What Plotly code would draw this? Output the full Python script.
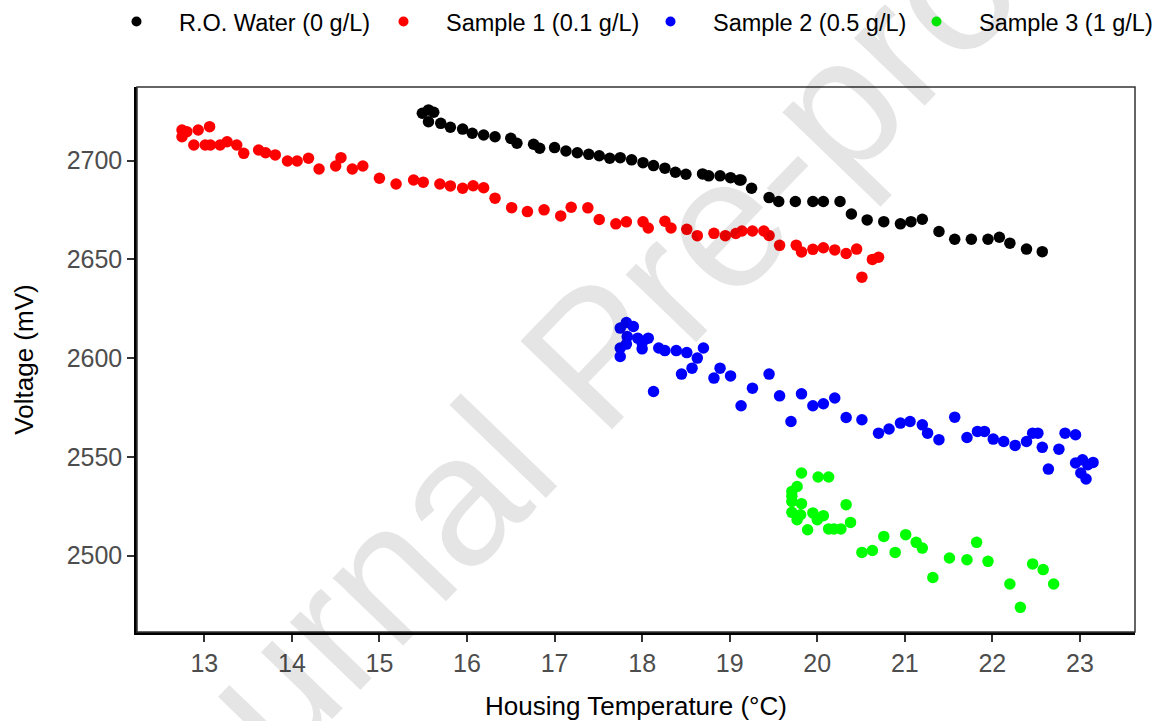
import plotly.graph_objects as go

# ---------------- data ----------------
ro_x = [15.49, 15.56, 15.62, 15.56, 15.70, 15.81, 15.95, 16.06, 16.19, 16.32, 16.50, 16.57,
        16.76, 16.83, 17.00, 17.13, 17.26, 17.39, 17.51, 17.63, 17.75, 17.88, 18.01, 18.13,
        18.26, 18.38, 18.50, 18.69, 18.76, 18.89, 19.01, 19.11, 19.13, 19.25, 19.45, 19.56,
        19.75, 19.95, 20.07, 20.26, 20.39, 20.57, 20.76, 20.95, 21.07, 21.20, 21.39, 21.57,
        21.76, 21.95, 22.08, 22.20, 22.39, 22.57]
ro_y = [2724.0, 2725.7, 2724.5, 2719.7, 2718.9, 2716.9, 2716.0, 2713.9, 2713.0, 2712.1, 2711.3, 2708.8,
        2708.3, 2706.3, 2706.6, 2704.9, 2704.0, 2703.2, 2702.5, 2701.2, 2701.5, 2700.4, 2699.0, 2697.5,
        2696.2, 2694.1, 2693.1, 2693.3, 2692.3, 2692.3, 2691.4, 2690.2, 2690.2, 2686.0, 2681.3, 2679.3,
        2679.3, 2679.3, 2679.3, 2679.3, 2673.0, 2670.0, 2669.1, 2668.0, 2669.1, 2670.3, 2664.1, 2660.2,
        2660.2, 2660.2, 2661.2, 2658.2, 2655.2, 2653.9]

s1_x = [12.745, 12.745, 12.80, 12.93, 13.06, 12.88, 13.01, 13.07, 13.18, 13.26, 13.37, 13.45,
        13.62, 13.70, 13.81, 13.95, 14.06, 14.19, 14.31, 14.50, 14.56, 14.69, 14.81, 15.00,
        15.19, 15.39, 15.50, 15.69, 15.81, 15.95, 16.07, 16.19, 16.32, 16.51, 16.69, 16.88,
        17.07, 17.19, 17.38, 17.51, 17.70, 17.82, 18.01, 18.07, 18.26, 18.33, 18.51, 18.63,
        18.82, 18.95, 19.07, 19.14, 19.26, 19.39, 19.45, 19.57, 19.76, 19.82, 19.95, 20.07,
        20.20, 20.33, 20.45, 20.51, 20.63, 20.70]
s1_y = [2715.5, 2712.1, 2714.7, 2715.5, 2717.2, 2707.9, 2707.9, 2707.9, 2707.9, 2709.6, 2707.9, 2703.7,
        2705.4, 2704.0, 2702.9, 2699.8, 2699.8, 2701.2, 2695.8, 2697.3, 2701.5, 2695.8, 2697.3, 2691.1,
        2688.2, 2690.2, 2689.1, 2688.2, 2687.2, 2686.0, 2687.3, 2686.3, 2681.0, 2676.2, 2674.2, 2675.1,
        2672.0, 2676.4, 2676.1, 2670.2, 2668.0, 2669.0, 2669.0, 2665.9, 2669.3, 2665.9, 2665.2, 2662.0,
        2663.2, 2662.0, 2663.1, 2664.4, 2664.4, 2664.4, 2662.1, 2657.1, 2657.2, 2653.8, 2655.1, 2655.9,
        2654.8, 2653.0, 2655.2, 2641.0, 2650.0, 2651.1]

s2_x = [17.75, 17.82, 17.90, 17.83, 17.95, 18.07, 18.00, 17.75, 17.82, 17.75, 18.00, 18.19,
        18.26, 18.39, 18.51, 18.70, 18.63, 18.57, 18.45, 18.13, 18.89, 18.82, 19.01, 19.26,
        19.13, 19.45, 19.57, 19.82, 19.70, 19.95, 20.07, 20.20, 20.33, 20.51, 20.70, 20.82,
        20.95, 21.06, 21.20, 21.26, 21.39, 21.57, 21.71, 21.83, 21.91, 22.01, 22.13, 22.26,
        22.39, 22.46, 22.52, 22.57, 22.64, 22.76, 22.83, 22.95, 22.95, 23.03, 23.09, 23.15,
        23.01, 23.07]
s2_y = [2615.2, 2618.0, 2616.0, 2610.9, 2610.1, 2610.1, 2607.6, 2605.1, 2607.1, 2600.8, 2604.7, 2605.1,
        2603.8, 2603.8, 2602.8, 2605.1, 2600.0, 2594.9, 2591.9, 2583.1, 2594.9, 2589.9, 2591.0, 2584.8,
        2575.9, 2591.9, 2580.9, 2581.9, 2567.9, 2575.9, 2576.9, 2579.8, 2569.9, 2568.8, 2562.0, 2564.1,
        2567.1, 2567.9, 2566.2, 2562.0, 2558.7, 2570.1, 2559.8, 2562.9, 2562.9, 2559.0, 2557.8, 2555.8,
        2557.8, 2562.0, 2562.0, 2554.8, 2543.8, 2553.9, 2562.0, 2561.2, 2546.9, 2548.5, 2546.0, 2547.2,
        2541.8, 2538.8]

s3_x = [19.82, 20.01, 20.13, 19.77, 19.71, 19.71, 19.71, 19.82, 19.71, 19.77, 19.81, 19.95,
        20.00, 20.07, 20.33, 20.38, 19.89, 20.13, 20.19, 20.27, 20.76, 21.01, 21.13, 21.20,
        20.51, 20.63, 20.89, 21.82, 21.51, 21.71, 21.95, 21.32, 22.20, 22.46, 22.58, 22.70,
        22.32]
s3_y = [2541.8, 2539.8, 2539.8, 2535.0, 2532.5, 2530.0, 2527.4, 2526.3, 2521.9, 2518.2, 2520.7, 2521.6,
        2518.2, 2520.2, 2525.8, 2516.8, 2513.1, 2513.5, 2513.5, 2513.5, 2509.7, 2510.6, 2506.7, 2503.8,
        2501.6, 2502.6, 2501.6, 2506.7, 2498.8, 2497.9, 2497.1, 2488.9, 2485.6, 2495.8, 2492.9, 2485.6,
        2473.8]

series_names = ["R.O. Water (0 g/L)", "Sample 1 (0.1 g/L)", "Sample 2 (0.5 g/L)", "Sample 3 (1 g/L)"]
series_colors = ["#000000", "#FF0000", "#0000FF", "#00FF00"]
x_ticks = [13, 14, 15, 16, 17, 18, 19, 20, 21, 22, 23]
y_ticks = [2500, 2550, 2600, 2650, 2700]
x_title = "Housing Temperature (°C)"
y_title = "Voltage (mV)"
watermark = "Journal Pre-proof"

# ---------------- figure ----------------
FONT = "Liberation Sans, Arial, sans-serif"
W, H = 1157, 721
fig = go.Figure()

all_x = [ro_x, s1_x, s2_x, s3_x]
all_y = [ro_y, s1_y, s2_y, s3_y]
for xs, ys, c in zip(all_x, all_y, series_colors):
    fig.add_trace(go.Scatter(x=xs, y=ys, mode="markers", showlegend=False,
                             marker=dict(size=11.5, color=c, line=dict(width=0))))

legend_keys = ["legend", "legend2", "legend3", "legend4"]
legend_text_x = [179, 446, 713, 979]
for name, c, key in zip(series_names, series_colors, legend_keys):
    fig.add_trace(go.Scatter(x=[None], y=[None], mode="markers", name=name, legend=key,
                             marker=dict(size=10, color=c, line=dict(width=0))))

IW = 75
leg_layout = {}
for key, tx in zip(legend_keys, legend_text_x):
    leg_layout[key] = dict(x=(tx - IW - 10) / W, xref="container", xanchor="left",
                           y=1 - 21.7 / H, yref="container", yanchor="middle",
                           orientation="h", bgcolor="rgba(0,0,0,0)", borderwidth=0,
                           itemwidth=IW,
                           font=dict(family=FONT, size=23.5, color="#000000"))

axis_common = dict(showgrid=False, zeroline=False, showline=True, linewidth=2.5,
                   linecolor="#000000", ticks="outside", ticklen=7, tickwidth=2,
                   tickcolor="#333333", tickfont=dict(family=FONT, size=25, color="#4D4D4D"),
                   mirror=False, automargin=False)

fig.update_layout(
    template="none",
    width=W, height=H, autosize=False,
    margin=dict(l=137, r=22, t=87, b=89),
    paper_bgcolor="white", plot_bgcolor="white",
    font=dict(family=FONT),
    xaxis=dict(range=[12.231, 23.629], tickvals=x_ticks,
               title=dict(text=x_title, font=dict(family=FONT, size=26, color="#000000"), standoff=25),
               **axis_common),
    yaxis=dict(range=[2461.3, 2737.3], tickvals=y_ticks,
               title=dict(text=y_title, font=dict(family=FONT, size=26, color="#000000"), standoff=26),
               **axis_common),
    shapes=[dict(type="rect", xref="paper", yref="paper", x0=0, x1=1, y0=0, y1=1,
                 line=dict(color="#333333", width=1.5), layer="above")],
    annotations=[dict(text=watermark, xref="paper", yref="paper",
                      x=(595 - 137) / 998, y=(632 - 355) / 545, showarrow=False,
                      textangle=-46, font=dict(family=FONT, size=185, color="rgba(0,0,0,0.1)"))],
    **leg_layout,
)

fig.write_html("out.html", config={"displayModeBar": False},
               post_script="document.body.style.margin='0px';document.body.style.overflow='hidden';")
